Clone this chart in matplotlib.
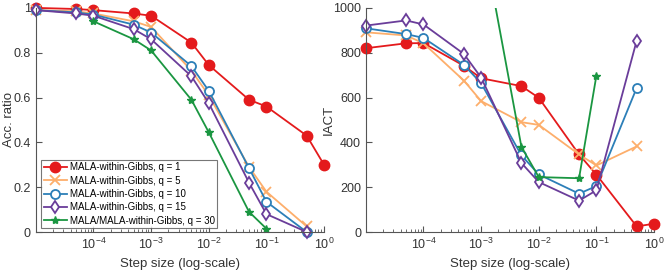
import matplotlib
matplotlib.use("Agg")
import matplotlib.pyplot as plt
import numpy as np

plt.rcParams['font.family'] = ['Liberation Sans', 'DejaVu Sans']

steps = [1e-5, 5e-5, 1e-4, 5e-4, 1e-3, 5e-3, 1e-2, 5e-2, 1e-1, 5e-1, 1.0]

labels = ['MALA-within-Gibbs, q = 1', 'MALA-within-Gibbs, q = 5',
          'MALA-within-Gibbs, q = 10', 'MALA-within-Gibbs, q = 15',
          'MALA/MALA-within-Gibbs, q = 30']

# acceptance ratio
acc_q1 = [1.0, 0.995, 0.99, 0.975, 0.965, 0.845, 0.745, 0.59, 0.56, 0.43, 0.30]
acc_q5 = [0.99, 0.985, 0.975, 0.94, 0.915, 0.72, 0.61, 0.29, 0.18, 0.025]
acc_q10 = [0.99, 0.98, 0.97, 0.925, 0.89, 0.74, 0.63, 0.285, 0.135, 0.0]
acc_q15 = [0.99, 0.975, 0.965, 0.905, 0.86, 0.695, 0.575, 0.22, 0.08, 0.0]
acc_q30 = [0.94, 0.86, 0.81, 0.59, 0.445, 0.09, 0.015]

# IACT
iact_q1 = [820, 842, 843, 742, 686, 651, 599, 346, 256, 25, 37]
iact_q5 = [891, 877, 842, 676, 584, 490, 478, 346, 297, 382]
iact_q10 = [909, 883, 866, 746, 664, 342, 257, 171, 205, 643]
iact_q15 = [921, 944, 926, 795, 689, 308, 223, 140, 186, 854]
iact_q30 = [1350, 380, 245, 240, 698]

colors = ['#e41a1c', '#fdae6b', '#2c7fb8', '#6a3d9a', '#1a9641']
markers = ['o', 'x', 'o', 'd', '*']

def style(i):
	s = dict(color=colors[i], marker=markers[i], lw=1.3, clip_on=False)
	if i == 0:
		s.update(ms=7.5, mfc=colors[i])
	elif i == 1:
		s.update(ms=7, mew=1.3)
	elif i == 4:
		s.update(ms=6, mfc=colors[i])
	else:
		s.update(ms=6.5, mfc='white', mew=1.3)
	return s

def setup(ax):
	ax.set_xscale('log')
	ax.set_xlim(1e-5, 1)
	ax.spines['top'].set_visible(False)
	ax.spines['right'].set_visible(False)
	for s in ['left', 'bottom']:
		ax.spines[s].set_color('#555555')
		ax.spines[s].set_linewidth(0.8)
	ax.tick_params(which='both', direction='in', colors='#555555', labelcolor='#333333', labelsize=9)
	ax.tick_params(which='major', length=4)
	ax.tick_params(which='minor', length=2)
	ax.set_xticks([1e-4, 1e-3, 1e-2, 1e-1, 1])
	ax.set_xlabel('Step size (log-scale)', fontsize=9.5, color='#333333')

fig = plt.figure(figsize=(6.64, 2.72), dpi=100)
ax1 = fig.add_axes([0.054, 0.147, 0.434, 0.824])
ax2 = fig.add_axes([0.551, 0.147, 0.434, 0.824])

acc = [acc_q1, acc_q5, acc_q10, acc_q15, acc_q30]
iact = [iact_q1, iact_q5, iact_q10, iact_q15, iact_q30]
acc_x = [steps, steps[:10], steps[:10], steps[:10], steps[2:9]]
iact_x = [steps, steps[:10], steps[:10], steps[:10], [1e-3, 5e-3, 1e-2, 5e-2, 1e-1]]

for i in range(5):
	ax1.plot(acc_x[i], acc[i], label=labels[i], **style(i))
	s = style(i)
	if i == 4:
		s['clip_on'] = True
	ax2.plot(iact_x[i], iact[i], **s)

setup(ax1)
ax1.set_ylim(0, 1)
ax1.set_yticks([0, 0.2, 0.4, 0.6, 0.8, 1])
ax1.set_yticklabels(['0', '0.2', '0.4', '0.6', '0.8', '1'])
ax1.set_ylabel('Acc. ratio', fontsize=9.5, color='#333333')
ax1.yaxis.set_label_coords(-0.072, 0.5)
leg = ax1.legend(loc='lower left', bbox_to_anchor=(0.012, 0.008), fontsize=7, frameon=True,
	fancybox=False, edgecolor='#555555', handlelength=2.4, handletextpad=0.3,
	borderpad=0.25, labelspacing=0.35, borderaxespad=0.2)
leg.get_frame().set_linewidth(0.8)

setup(ax2)
ax2.set_ylim(0, 1000)
ax2.set_yticks([0, 200, 400, 600, 800, 1000])
ax2.set_ylabel('IACT', fontsize=9.5, color='#333333')
ax2.yaxis.set_label_coords(-0.108, 0.5)

fig.savefig('out.png', dpi=100)
